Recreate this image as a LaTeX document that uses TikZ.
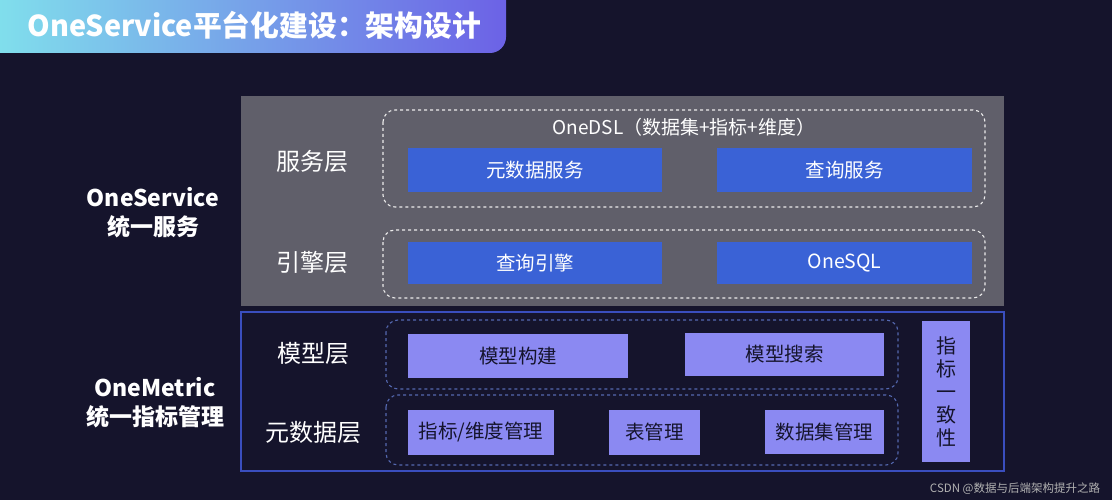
\documentclass[tikz,border=0pt]{standalone}
\usepackage{fontspec}
\setmainfont{Noto Sans CJK SC}
\usetikzlibrary{positioning}
\definecolor{navy}{RGB}{21,20,44}
\definecolor{slab}{RGB}{96,95,106}
\definecolor{blu}{RGB}{58,98,214}
\definecolor{lav}{RGB}{139,137,242}
\definecolor{rim}{RGB}{58,78,190}
\definecolor{dshb}{RGB}{84,104,176}
\definecolor{ttla}{RGB}{128,222,236}
\definecolor{ttlb}{RGB}{108,98,230}
\tikzset{lyr/.style={text=white,font=\fontsize{24}{28}\selectfont},
side/.style={text=white,align=center,font=\fontsize{23}{29}\selectfont\bfseries},
bbox/.style={fill=blu,text=white,inner sep=0pt,minimum height=44pt,font=\fontsize{19.5}{23}\selectfont},
lbox/.style={fill=lav,text=navy,inner sep=0pt,minimum height=44pt,font=\fontsize{19.5}{23}\selectfont},
wdsh/.style={draw=white!85!gray,dashed,rounded corners=12pt,line width=1.1pt},
bdsh/.style={draw=dshb,dashed,rounded corners=12pt,line width=1.1pt}}
\begin{document}
\begin{tikzpicture}[x=1pt,y=-1pt]
\fill[navy] (0,0) rectangle (1112,500);
\useasboundingbox (0,0) rectangle (1112,500);
% title
\shade[left color=ttla,right color=ttlb] (0,0) -- (506,0) [rounded corners=16pt] -- (506,53) [sharp corners] -- (0,53) -- cycle;
\node[anchor=west,text=white,font=\fontsize{28.8}{33}\selectfont\bfseries] (ttl) at (24,25) {OneService平台化建设：架构设计};
% upper part
\fill[slab] (241,96) rectangle (1004,306);
\draw[wdsh] (383,110) rectangle (985,207);
\draw[wdsh] (383,230) rectangle (985,298);
\node[text=white,font=\fontsize{19}{23}\selectfont] (dsl) at (684,127) {OneDSL（数据集+指标+维度）};
\node[bbox,minimum width=254pt] (mds) at (535,170) {元数据服务};
\node[bbox,minimum width=255pt] (qs) at (844.5,170) {查询服务};
\node[bbox,minimum width=254pt,minimum height=42pt] (qe) at (535,263) {查询引擎};
\node[bbox,minimum width=255pt,minimum height=42pt] (sql) at (844.5,263) {OneSQL};
\node[lyr] (fw) at (312,161) {服务层};
\node[lyr] (yq) at (312,262) {引擎层};
\node[side] (os) at (153,213) {OneService\\统一服务};
% lower part
\draw[rim,line width=1.5pt] (241,312) rectangle (1004,471);
\draw[bdsh] (386,320) rectangle (898,389);
\draw[bdsh] (386,395) rectangle (898,465);
\node[lbox,minimum width=220pt] (mb) at (518,356) {模型构建};
\node[lbox,minimum width=199pt,minimum height=43pt] (ms) at (784.5,354.5) {模型搜索};
\node[lbox,minimum width=146pt,minimum height=45pt] (zb) at (481,432.5) {指标/维度管理};
\node[lbox,minimum width=91pt,minimum height=45pt] (bg) at (654.5,432.5) {表管理};
\node[lbox,minimum width=119pt] (sj) at (824.5,432) {数据集管理};
\node[lbox,minimum width=48pt,minimum height=141pt,align=center,font=\fontsize{20}{23}\selectfont] (yz) at (946,391.5) {指\\标\\一\\致\\性};
\node[lyr] (mx) at (313,353) {模型层};
\node[lyr] (ys) at (313,432) {元数据层};
\node[side] (om) at (155,403) {OneMetric\\统一指标管理};
\node[text=gray!60!white,font=\fontsize{11.5}{13}\selectfont] (wm) at (1015,489) {CSDN @数据与后端架构提升之路};
\end{tikzpicture}
\end{document}
